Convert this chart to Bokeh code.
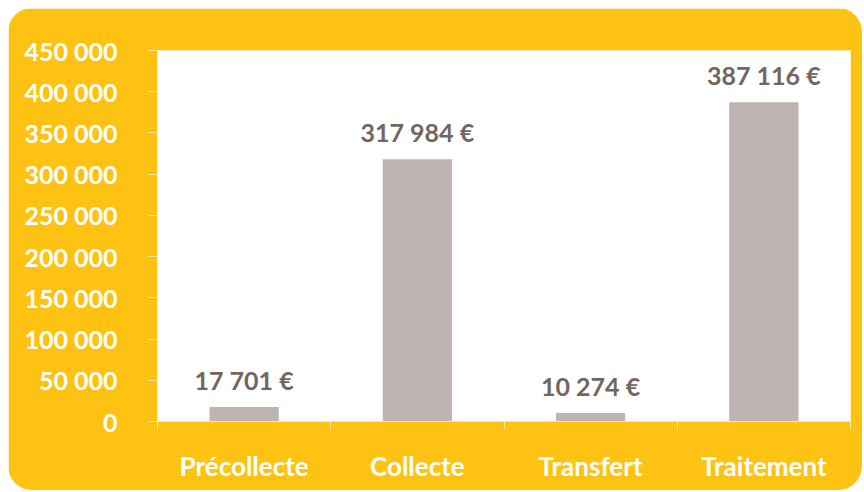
from bokeh.plotting import figure
from bokeh.models import ColumnDataSource, LabelSet, FixedTicker, Range1d
from bokeh.core.properties import value
from bokeh.embed import file_html
from bokeh.resources import INLINE

categories = ["Précollecte", "Collecte", "Transfert", "Traitement"]
values = [17701, 317984, 10274, 387116]
y_ticks = [0, 50000, 100000, 150000, 200000, 250000, 300000, 350000, 400000, 450000]

ORANGE = "#FEC312"
BAR = "#BFB4B1"
LABEL = "#736560"
FONT = "Lato"

def fr(n):
    return f"{n:,}".replace(",", " ")

xs = [i + 0.5 for i in range(len(categories))]
src = ColumnDataSource(dict(
    x=xs, top=values, cat=categories,
    label=[fr(v) + " €" for v in values],
))

p = figure(width=854, height=482, output_backend="svg", toolbar_location=None,
           x_range=Range1d(0, len(categories)), y_range=Range1d(0, y_ticks[-1]),
           min_border_left=149, min_border_top=42, min_border_right=12, min_border_bottom=69)
p.styles = {"border-radius": "24px", "overflow": "hidden", "margin-left": "8px", "margin-top": "8px"}
p.border_fill_color = ORANGE
p.background_fill_color = "white"
p.outline_line_color = None
p.grid.grid_line_color = None

p.vbar(x="x", top="top", width=0.4, source=src, fill_color=BAR, line_color=None)

labels = LabelSet(x="x", y="top", text="label", source=src, y_offset=27,
                  text_align="center", text_baseline="middle",
                  text_font=value(FONT), text_font_style="bold", text_font_size="25px",
                  text_color=LABEL)
p.add_layout(labels)

TICKC = "#FFE7A0"
# y axis
ya = p.yaxis[0]
ya.ticker = FixedTicker(ticks=y_ticks)
ya.major_label_overrides = {t: fr(t) for t in y_ticks}
ya.axis_line_color = None
ya.major_tick_line_color = TICKC
ya.major_tick_in = 0
ya.major_tick_out = 9
ya.minor_tick_line_color = None
ya.major_label_standoff = 31
ya.major_label_text_font = FONT
ya.major_label_text_font_style = "bold"
ya.major_label_text_font_size = "25px"
ya.major_label_text_color = "white"

# x axis
xa = p.xaxis[0]
xa.ticker = FixedTicker(ticks=xs, minor_ticks=list(range(len(categories) + 1)))
xa.major_label_overrides = {x: c for x, c in zip(xs, categories)}
xa.axis_line_color = TICKC
xa.major_tick_line_color = None
xa.major_tick_in = 0
xa.major_tick_out = 0
xa.minor_tick_line_color = TICKC
xa.minor_tick_in = 0
xa.minor_tick_out = 8
xa.major_label_standoff = 20
xa.major_label_text_font = FONT
xa.major_label_text_font_style = "bold"
xa.major_label_text_font_size = "26px"
xa.major_label_text_color = "white"

open("out.html", "w").write(file_html(p, INLINE))
